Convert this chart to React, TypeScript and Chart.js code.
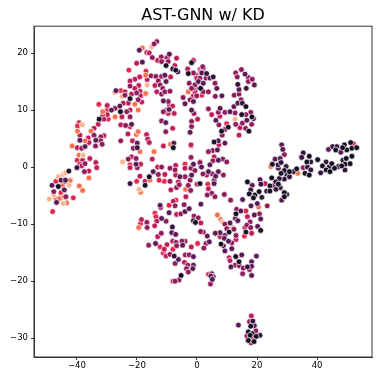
import React, { useEffect, useRef } from "react";
import { Chart, registerables } from "chart.js";

Chart.register(...registerables);

const chartTitle = "AST-GNN w/ KD";
const xTicks = [-40, -20, 0, 20, 40];
const yTicks = [-30, -20, -10, 0, 10, 20];

const peach: number[][] = [[-15.1,21.1],[-16.6,14.4],[-25,12.4],[-27.4,13.1],[-38.2,7.4],[-37.9,2.1],[-24.8,0.9],[-46.2,-1.7],[-44.6,-1.3],[-43.8,-1],[-42.6,-3.2],[-47.7,-4.9],[-49.2,-5.6],[-44.6,-6.4],[-19.3,-3.9],[12.7,8.4],[8.4,-9.6],[11.6,-10.5]];
const orange: number[][] = [[-18.2,20.9],[-17.1,16.1],[-17.1,12.9],[-31.4,9.7],[-27.3,8.8],[-20.7,11],[-19.6,10],[-35.3,6.3],[-39.8,6.3],[-37.3,4.6],[-41.6,3.7],[-39.3,2.1],[-36,-1.9],[-20.2,5.7],[-19.6,6.2],[-19,2.7],[-14.3,2.7],[-8.8,4],[-15.7,-2.3],[-2.9,13.2],[-0.1,12.4],[24.6,0.1],[33.6,-1.1],[-42.1,-2.3],[-44.8,-3.2],[-42.3,-2.4],[-47,-5.5],[-45.7,-5.5],[-44.3,-5.2],[-43.4,-6.3],[-39.2,-3.3],[-38.1,-4.1],[-18.8,-4.4],[-3.8,-3.9],[-19.4,-10.6],[20.5,-7],[6.8,-8.4],[7.9,-9.2]];
const red: number[][] = [[-22.7,17],[-17,16.8],[-25.3,13.4],[-32.7,11],[-29.9,10],[-29.6,8.4],[-39.3,7.8],[-39.8,7.2],[-39.9,1.2],[-22.3,0.4],[-20.1,-2.5],[-10.9,-2.5],[-12.6,-2.3],[-4,0.5],[1.6,12.6],[-2,3.7],[-0.1,-3],[3.6,-3],[-47,-2.5],[-45.3,-4.5],[-41.2,-5.4],[-48.1,-7.8],[-7,-5.8],[-9.3,-6.7],[-14,-8.1],[-13.7,-8.7],[-18.8,-9.9],[0.2,-13.4],[-12.3,-14],[-8,-14.4],[-11.2,-15.1],[16.3,-7.7],[15.8,-12.1],[3.8,-18.8],[9.9,7.6],[52.1,4.1],[-0.7,13]];
const crimson: number[][] = [[-16.7,20.1],[-15.9,20],[-13.1,18.7],[-10.7,19.1],[-6.8,19.1],[-7.4,17.8],[-20.1,18.2],[-19.1,15.8],[-20.7,15.4],[-22.3,15.1],[-16.6,15.3],[-14,14.3],[-13.4,13.2],[-8.8,15.8],[-19.4,14.3],[-20.7,13.8],[-19,13.3],[-24,13.2],[-21.8,12.8],[-18.8,12.5],[-18.4,11.4],[-22.9,11.2],[-24.6,11.2],[-29.9,10.8],[-29.9,9.2],[-31.4,9.1],[-31,8.4],[-22.3,10],[-25,8.8],[-25.4,7.4],[-22.3,7.1],[-32.9,7.5],[-34.3,6.8],[-39,5.6],[-36.2,5.1],[-31,5.5],[-36,4.3],[-39.9,3.4],[-35.7,1.5],[-38.1,1.2],[-39,0.5],[-33.7,0.8],[-38.4,0.2],[-33.4,-0.1],[-36,-0.7],[-23,5.8],[-16.8,5.7],[-16.4,4.9],[-15.9,4.3],[-21.5,4.6],[-14.9,1.4],[-11.2,3.7],[-2,3.9],[-21.8,1.8],[-18.8,0.5],[-22.3,-0.1],[-13.1,0],[-19,-1.6],[-17.3,-2.5],[-10.7,-1.3],[-7.1,0.3],[-7.1,-1.4],[-4,-0.2],[-6.2,-2.6],[0.1,-3],[-1.2,12.5],[-0.1,13.8],[-0.3,16.1],[1,17.1],[-1.2,18.7],[-3.1,17.2],[-0.1,15.6],[-0.7,13.2],[0.2,8.4],[-8.1,6.8],[-9.2,10.9],[-8.1,10.7],[-9.6,9.4],[-7.6,9.4],[4.9,9.2],[7.6,8.9],[14.3,6.9],[14,5.6],[7.3,3.9],[5.7,1.8],[1.3,0.1],[1,0.9],[3.2,-1.4],[-2,-1.7],[-8.7,-4],[-2.3,-4.1],[3.8,-3.8],[-7.9,-6],[-6.8,-8.3],[-3.7,-5.2],[-13.4,-9.5],[-18.5,-9.2],[-14.1,-10.3],[-13.1,-12.2],[-8.1,-13],[-1.9,-14],[1.3,-9.8],[-10,-13.6],[-10.9,-14.4],[-10.3,-15.6],[-4.2,-16.7],[-8,-20],[16.8,-8.7],[18.2,-11.6],[16,-10.6],[7.7,-12.2],[13,-12.7],[10.7,-15.9],[11,-16.4],[17.5,-18],[18.1,-26.1],[16.6,-29.6],[18.8,-30],[34.7,1.8],[22.7,-2.9]];
const magenta: number[][] = [[-13.4,22],[-14.3,21.6],[-14.9,19.2],[-11.9,19.3],[-9.9,19.2],[-9.6,18.5],[-11.8,18.5],[-15.3,16],[-13.7,15.9],[-11.8,15.9],[-12.9,15.1],[-12.3,14.4],[-11.4,13.8],[-11.8,12.8],[-10.7,13.2],[-9,13.3],[-22.3,14.2],[-24,12.6],[-20.1,13],[-19.6,11.8],[-27.3,10.3],[-23.4,9.7],[-22.3,8.8],[-23.8,7.3],[-34.3,5.6],[-32,5.3],[-32.1,4.6],[-31.6,4],[-33.8,3.7],[-38.4,3.3],[-37.3,0.6],[-37.5,-0.8],[-25.4,4.6],[-21.2,3.3],[-2,1.7],[-22.9,1.4],[-20.3,1.5],[-19.9,-0.1],[-11.8,0],[-12.9,-1.3],[-9,-0.2],[-7.3,-0.5],[-4,-1.7],[-2,-0.2],[1,0.8],[-2.3,-2.3],[-9,-2.5],[-2.9,-3.2],[-4.6,12.2],[-2.3,11.8],[-2.6,14.7],[2.1,13.2],[-1.2,13.8],[-0.1,14.7],[1,15.6],[-1.2,16.5],[1.3,16.7],[2.1,17.3],[-1,9.4],[-1.8,8],[-1.8,7.1],[-11.8,8.1],[-10.4,6.2],[-9.6,11.5],[-10.1,10],[-11.2,9.7],[1.9,17.6],[3,15.6],[6,14.7],[-0.7,14.4],[-1.8,13.8],[-0.1,12.5],[3.8,13.2],[6.1,12.4],[12.9,16.5],[14.8,17.1],[13.4,15.8],[17.1,15.7],[17.1,15],[18.4,15.4],[12.4,12.6],[14,12.8],[3.8,10.2],[7.1,9.6],[9.3,9.6],[12.7,9.5],[14.7,11.8],[17.9,9.6],[16.3,9.2],[7.3,7.4],[9.3,6.6],[12.9,7.5],[15.1,7.7],[18.2,7.5],[16.2,6.8],[8.4,5.6],[5.2,2.9],[3.8,2.7],[8.6,1.4],[9.9,0.9],[5.3,1.1],[-0.7,-0.6],[5.1,-1.2],[8.8,-1.4],[5.7,-2.3],[2,-1.2],[-44,-2.5],[-47.7,-4.3],[-43.7,-5.2],[-6.8,-3.6],[-5.9,-3.1],[-7.3,-6.8],[-12.1,-7.1],[-5.4,-8.2],[-4.3,-6.6],[-10.3,-9.5],[-16.7,-9.7],[-16.6,-10.6],[-11.9,-11.6],[-7,-13.2],[-4,-13],[-5,-13],[-6.8,-13.8],[2.1,-11.4],[1.2,-11.3],[2.2,-14.2],[-16.1,-13.7],[-9,-15.3],[-7.3,-16.9],[-3.9,-15.4],[-2.6,-15.4],[-3.1,-17.2],[-3.5,-17.8],[-2.9,-18.4],[-6,-19.8],[-7.3,-20],[-2.1,-4.1],[4.9,-4.6],[3.4,-4.9],[6,-5.2],[9.1,-4.8],[11.2,-5.8],[27.9,-3.7],[23.4,-6.8],[13.2,-7.4],[20.8,-8.2],[17.7,-9.6],[9.3,-10],[9.9,-10.8],[12.3,-10.9],[16.6,-10.2],[17.9,-10.6],[11.6,-13.3],[13,-12],[-1,-8.6],[0.4,-8.9],[3,-13.4],[2.3,-14.2],[15.2,-18.7],[12.7,-17.2],[14.1,-17.3],[15.4,-17.7],[12.9,-15.6],[4.9,-18.7],[5.4,-19.2],[4.5,-20.5],[17.5,-27.1],[19.6,-28.7],[18,-30.8],[29.1,2.2],[35.4,-0.1]];
const purple: number[][] = [[-9.2,19.8],[-19.2,20.5],[-18.2,18.4],[-10.7,16.1],[-10.3,15],[-27,13.4],[-25.7,10.7],[-28.5,10],[-21.8,7.5],[-39,4.7],[-33.7,4.7],[-37.3,3.6],[-19.9,4.2],[-7.7,4.2],[-20.3,0.5],[-14.6,-0.8],[-5.7,-1.7],[1.5,0],[-1.8,-1.4],[-4,11.1],[-1.8,10],[-2.3,6.1],[-10.4,7.8],[-11.2,11.6],[-9.3,10.1],[1.6,16.5],[4.3,15.6],[6.6,13.8],[0.5,15],[2.1,14.7],[8.3,12.5],[-1.2,11.5],[16,16.3],[19.1,14.4],[14,13.6],[7.7,10.3],[11,9.7],[12.3,10.6],[13.6,11.2],[18.8,8.5],[16.6,8.2],[6.3,8.2],[7.1,4.6],[9.3,4.2],[6.8,3],[7.1,1.2],[4.3,0.4],[3.8,-0.8],[7.1,-0.8],[6.2,-1.6],[-1.2,0.5],[5.7,-2.9],[28.2,3.9],[28.6,3.1],[26,1.4],[27.7,1.5],[27.1,-0.2],[21,-2.2],[18.4,-3.2],[25.4,-3.3],[43.8,3.1],[47.9,2.6],[-48.3,-3.2],[-44.2,-4],[-46.8,-6.2],[-45.3,-2.3],[-43.8,-2.3],[-12.3,-6.7],[-9.3,-8],[-4,-7.8],[-2.6,-7.3],[-11.8,-9],[1.3,-6.5],[-8.4,-11.5],[-7.1,-11.8],[-4.8,-13.7],[-13.8,-13.4],[-6.2,-16.2],[-1.2,-15.7],[-1.2,-17.2],[-1.4,-17.8],[15.2,-5.7],[20.1,-6.4],[18,-6.8],[14.6,-7.7],[19.1,-8.4],[21.2,-9.1],[11,-9.8],[12.8,-9],[13.6,-9.4],[9.3,-12],[7.7,-11.5],[6.1,-11.6],[9.1,-12.5],[10.5,-13],[8.8,-13.8],[11.6,-14.3],[9.3,-14.7],[20.2,-10.4],[3.4,-12.1],[4.1,-13.1],[14.9,-15.4],[11.3,-17.5],[18.2,-16.6],[18.2,-17.4],[19.8,-15.6],[18.2,-19],[4.6,-19.1],[5.1,-19.7],[28.2,-5.8],[13.8,-27.7],[19.1,-27.8]];
const dark: number[][] = [[-8.1,17.2],[-6.4,16.7],[-19.9,3.4],[-40,-0.1],[3.2,16.4],[5.4,15.8],[13.6,14.5],[16.4,13.8],[15.1,11.2],[27,0.4],[28,0.8],[29.7,0.1],[29.9,-1.4],[32.1,-0.8],[30.8,-1.7],[29.1,-2.1],[27.4,-2],[21.3,-3],[26.2,-2.6],[27.7,-3.6],[35.4,2.5],[34.9,1.7],[37.9,0.9],[36.8,0],[37.9,-0.5],[41.2,-1],[43,0.9],[47.1,0.1],[48.6,1.2],[49.3,-0.5],[45.2,3.6],[46.6,3.6],[-22.3,-2.9],[-8.2,-10.5],[-1.2,-9.4],[-7.6,-15.6],[17.9,-4],[21.6,-5.3],[23.2,-4.2],[26.3,-3.9],[29.9,-4.8],[16.8,-17.5],[18.6,-27],[21,-29.5]];
const black: number[][] = [[-10.3,17.8],[-7.1,17],[-22.3,12],[-32.6,8.4],[-25.5,9.7],[-7.9,3.4],[-15.9,-1.7],[-17.3,-3.2],[1,-2.9],[1.2,13.8],[-1.8,18.3],[-2.9,16.4],[16.3,10.6],[14.9,9.2],[18.3,8.8],[10.4,7],[17.3,6.3],[8.2,6.3],[5.7,4.4],[25.1,0.5],[29.1,-0.6],[28,-1.1],[30.8,-0.8],[33.2,-0.3],[24.9,-1.9],[16.8,-2.6],[24.3,-3.3],[27.1,-3],[37.4,1.9],[40.2,1.3],[36.6,0.9],[36,-1.1],[37.4,-1.4],[41.8,0.2],[44,0],[43,-0.5],[44.9,0.6],[45.8,-0.2],[44.3,-0.8],[49.7,1.5],[51,0.6],[49.3,0.5],[48.2,0.2],[51.6,1.9],[46.2,3],[49.1,3.9],[49.9,3],[51.2,4.3],[51.6,3.3],[53.2,3.4],[48.5,3.4],[-46.2,-3.4],[-42.7,-0.7],[-0.5,-9.7],[-5.3,-19],[17.4,-4.7],[19.3,-4.9],[18.8,-5.4],[20.7,-4.3],[24.3,-4.2],[29.1,-4.5],[29.1,-5.2],[13,-8.2],[21.2,-11.1],[16.3,-11.4],[10.7,-11.4],[8,-13.5],[12.9,-15.7],[14,-16.6],[17.9,-27.9],[17.1,-28.9],[18.4,-29.2],[17.7,-29.5],[19.7,-29.7],[17.1,-30.4],[19,-30.6]];

const groups: [number[][], string][] = [
  [black, "#170f22"],
  [dark, "#35153f"],
  [purple, "#5a1a55"],
  [magenta, "#8f1d5c"],
  [peach, "#f9b591"],
  [orange, "#f4724f"],
  [crimson, "#bd1e5a"],
  [red, "#e3264c"],
];

const frame = {
  id: "frame",
  afterDatasetsDraw(chart: any) {
    const { ctx, chartArea: a } = chart;
    ctx.save();
    ctx.strokeStyle = "#333";
    ctx.lineWidth = 1;
    ctx.strokeRect(a.left, a.top, a.right - a.left, a.bottom - a.top);
    ctx.restore();
  },
};

const label = (v: any) => (Number(v) < 0 ? "\u2212" + Math.abs(Number(v)) : String(v));

export default function App() {
  const ref = useRef<HTMLCanvasElement>(null);
  useEffect(() => {
    const chart = new Chart(ref.current!, {
      type: "scatter",
      data: {
        datasets: groups.map(([pts, color]) => ({
          data: pts.map(([x, y]) => ({ x, y })),
          backgroundColor: color,
          borderColor: "#ffffff",
          borderWidth: 0.7,
          pointRadius: 2.9,
        })),
      },
      options: {
        animation: false,
        responsive: false,
        layout: { padding: { right: 10, left: 0, bottom: 0, top: 0 } },
        plugins: {
          legend: { display: false },
          tooltip: { enabled: false },
          title: {
            display: true,
            fullSize: false,
            text: chartTitle,
            color: "#000",
            font: { family: "DejaVu Sans", size: 16, weight: "normal" },
            padding: { top: 6, bottom: 1 },
          },
        },
        scales: {
          x: {
            type: "linear",
            min: -54.3,
            max: 58.3,
            afterBuildTicks: (s: any) => { s.ticks = xTicks.map((value) => ({ value })); },
            afterFit: (s: any) => { s.height = 25; },
            grid: { drawOnChartArea: false, tickLength: 3, tickColor: "#333" },
            border: { color: "#333", width: 1 },
            ticks: { color: "#000", font: { family: "DejaVu Sans", size: 8.5 }, maxRotation: 0, padding: 1, callback: label },
          },
          y: {
            type: "linear",
            min: -33.3,
            max: 24.7,
            afterBuildTicks: (s: any) => { s.ticks = yTicks.map((value) => ({ value })); },
            afterFit: (s: any) => { s.width = 34; },
            grid: { drawOnChartArea: false, tickLength: 3, tickColor: "#333" },
            border: { color: "#333", width: 1 },
            ticks: { color: "#000", font: { family: "DejaVu Sans", size: 8.5 }, padding: 3, callback: label },
          },
        },
      },
      plugins: [frame],
    } as any);
    return () => chart.destroy();
  }, []);
  return (
    <div style={{ position: "fixed", left: 0, top: 0, width: 382, height: 382, background: "#fff" }}>
      <canvas ref={ref} width={382} height={382} style={{ display: "block" }} />
    </div>
  );
}
